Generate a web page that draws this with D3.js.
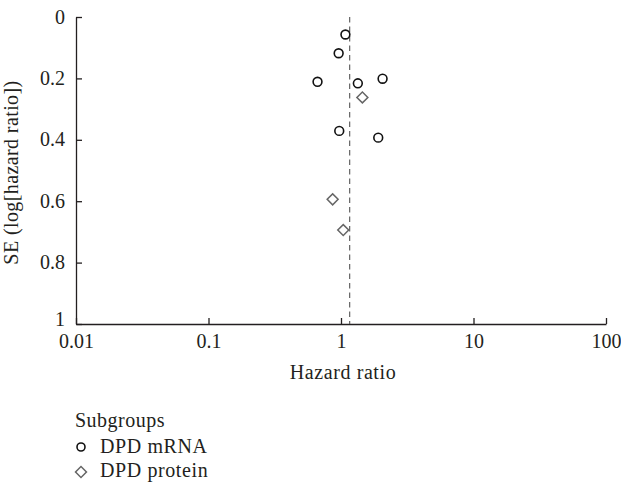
<!DOCTYPE html>
<html>
<head>
<meta charset="utf-8">
<script src="https://cdn.jsdelivr.net/npm/d3@7"></script>
<style>
  body { margin: 0; background: #fff; }
  svg text { font-family: "Liberation Serif", "DejaVu Serif", serif; fill: #231f20; }
</style>
</head>
<body>
<svg class="funnel" width="621" height="483"></svg>
<script>
// values
const mrnaHR = [1.08, 0.96, 0.665, 1.34, 2.06, 0.97, 1.91];
const mrnaSE = [0.057, 0.118, 0.211, 0.216, 0.201, 0.371, 0.393];
const proteinHR = [1.45, 0.865, 1.04];
const proteinSE = [0.262, 0.594, 0.694];
const pooledHR = 1.163;
const xTicks = [0.01, 0.1, 1, 10, 100];
const yTicks = [0, 0.2, 0.4, 0.6, 0.8, 1];
const subgroups = ["DPD mRNA", "DPD protein"];

let margin = {top: 17, right: 15, bottom: 159, left: 76};
let width = 621 - margin.left - margin.right;
let height = 483 - margin.top - margin.bottom;
let fs = 20;

let svg = d3.select(".funnel")
    .append("g")
    .attr("transform", "translate(" + margin.left + "," + margin.top + ")");

let x = d3.scaleLog().domain([0.01, 100]).range([0, width]);
let y = d3.scaleLinear().domain([0, 1]).range([0, height]);

// axes, ticks pointing inward
let xAxis = svg.append("g")
    .attr("transform", `translate(0, ${height})`)
    .call(d3.axisBottom(x).tickValues(xTicks).tickFormat(d3.format("~g"))
        .tickSizeInner(-6).tickSizeOuter(0).tickPadding(10));

let yAxis = svg.append("g")
    .call(d3.axisLeft(y).tickValues(yTicks).tickFormat(d3.format("~g"))
        .tickSizeInner(-6).tickSizeOuter(0).tickPadding(11));

[xAxis, yAxis].forEach(function(g) {
    g.selectAll("text").attr("font-size", fs).attr("font-family", null).attr("fill", "#231f20");
    g.selectAll("line, path").attr("stroke", "#231f20").attr("stroke-width", 1.3);
});
// the bottom y label sits right above "0.01", lift it a little
yAxis.selectAll("text").attr("dy", function(d) { return d === 1 ? "0.08em" : "0.3em"; });

// pooled estimate
svg.append("line")
    .attr("x1", x(pooledHR)).attr("x2", x(pooledHR))
    .attr("y1", y(0)).attr("y2", y(1))
    .attr("stroke", "#555")
    .attr("stroke-width", 1.1)
    .attr("stroke-dasharray", "5.5,4");

let mrna = mrnaHR.map(function(d, i) { return {hr: d, se: mrnaSE[i]}; });
let protein = proteinHR.map(function(d, i) { return {hr: d, se: proteinSE[i]}; });

svg.selectAll(".mrna")
    .data(mrna)
    .enter().append("circle")
    .attr("class", "mrna")
    .attr("cx", function(d) { return x(d.hr); })
    .attr("cy", function(d) { return y(d.se); })
    .attr("r", 4.4)
    .attr("fill", "none")
    .attr("stroke", "#111")
    .attr("stroke-width", 1.6);

let diamond = d3.symbol().type(d3.symbolSquare).size(60);

svg.selectAll(".protein")
    .data(protein)
    .enter().append("path")
    .attr("class", "protein")
    .attr("d", diamond)
    .attr("transform", function(d) { return `translate(${x(d.hr)}, ${y(d.se)}) rotate(45)`; })
    .attr("fill", "none")
    .attr("stroke", "#666")
    .attr("stroke-width", 1.5);

// axis titles
svg.append("text")
    .attr("x", width / 2 + 2)
    .attr("y", height + 55)
    .attr("text-anchor", "middle")
    .attr("font-size", fs)
    .attr("letter-spacing", 0.6)
    .text("Hazard ratio");

svg.append("text")
    .attr("transform", `translate(${-58}, ${height / 2 + 2}) rotate(-90)`)
    .attr("text-anchor", "middle")
    .attr("font-size", fs)
    .attr("letter-spacing", 0.4)
    .text("SE (log[hazard ratio])");

// legend
let legend = svg.append("g").attr("transform", `translate(0, ${height + 103})`);

legend.append("text")
    .attr("x", -1).attr("y", 0)
    .attr("font-size", fs)
    .attr("letter-spacing", 0.5)
    .text("Subgroups");

legend.selectAll(".item")
    .data(subgroups)
    .enter().append("text")
    .attr("class", "item")
    .attr("x", 24)
    .attr("y", function(d, i) { return 26 + i * 24; })
    .attr("font-size", fs)
    .attr("letter-spacing", 0.6)
    .text(function(d) { return d; });

legend.append("circle")
    .attr("cx", 5).attr("cy", 20)
    .attr("r", 4)
    .attr("fill", "none").attr("stroke", "#111").attr("stroke-width", 1.6);

legend.append("path")
    .attr("d", diamond)
    .attr("transform", `translate(5, 45) rotate(45)`)
    .attr("fill", "none").attr("stroke", "#666").attr("stroke-width", 1.5);
</script>
</body>
</html>
